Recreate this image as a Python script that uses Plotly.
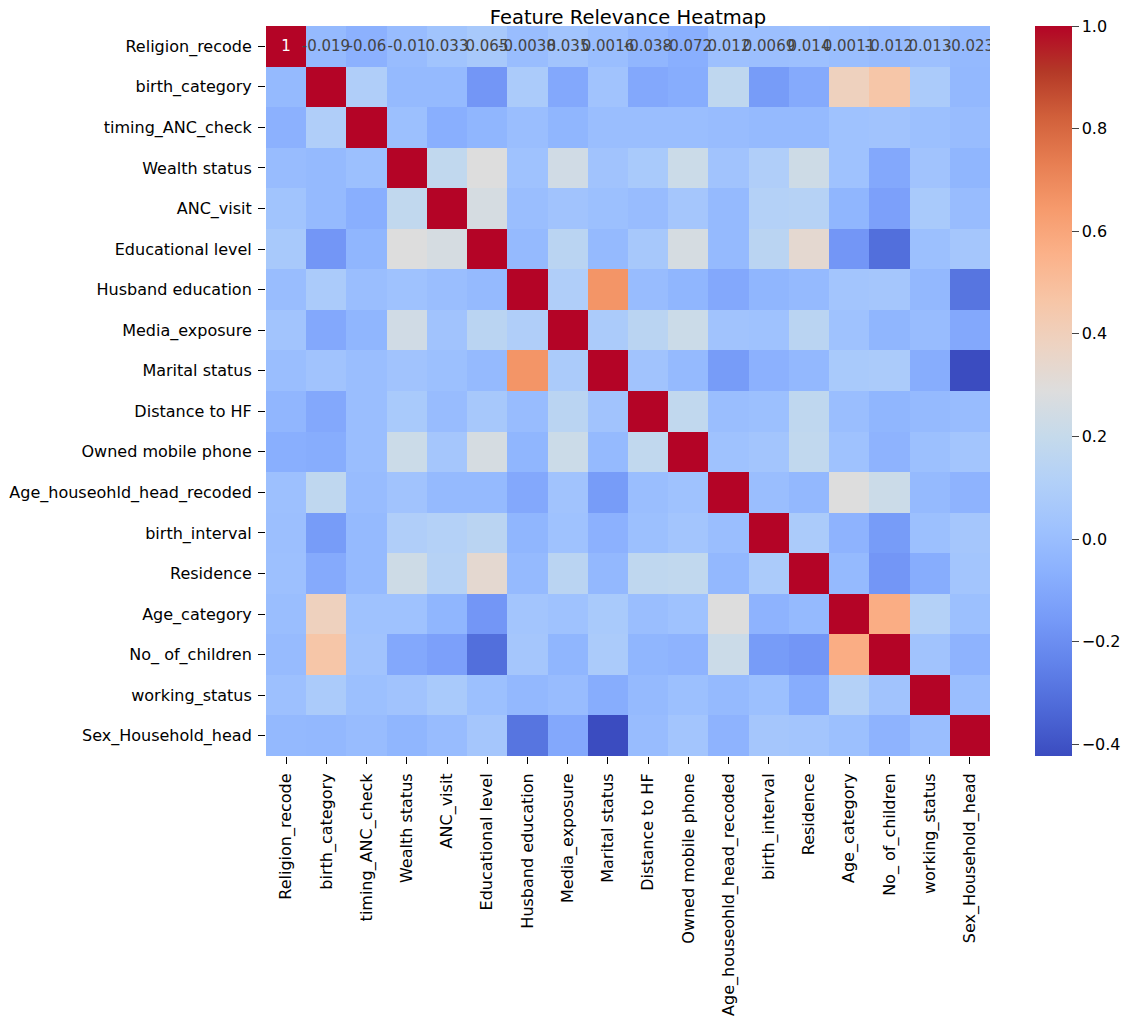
import plotly.graph_objects as go

features = [
    "Religion_recode", "birth_category", "timing_ANC_check", "Wealth status",
    "ANC_visit", "Educational level", "Husband education", "Media_exposure",
    "Marital status", "Distance to HF", "Owned mobile phone",
    "Age_houseohld_head_recoded", "birth_interval", "Residence",
    "Age_category", "No_ of_children", "working_status", "Sex_Household_head",
]

# correlation matrix (row 0 from the printed values)
religion_recode = [1, -0.019, -0.06, -0.01, 0.033, 0.065, -0.0038, 0.035, 0.0016, -0.038, -0.072, 0.012, 0.0069, 0.014, 0.0011, -0.012, 0.013, -0.023]
birth_category = [-0.019, 1, 0.1, -0.02, -0.02, -0.17, 0.08, -0.1, 0.03, -0.1, -0.08, 0.17, -0.15, -0.09, 0.39, 0.46, 0.08, -0.03]
timing_anc_check = [-0.06, 0.1, 1, 0.01, -0.07, -0.04, 0.0, -0.04, 0.0, 0.0, 0.0, -0.01, -0.02, -0.02, 0.02, 0.03, 0.01, -0.01]
wealth_status = [-0.01, -0.02, 0.01, 1, 0.18, 0.29, 0.02, 0.24, 0.03, 0.07, 0.22, 0.03, 0.1, 0.23, 0.02, -0.1, 0.03, -0.04]
anc_visit = [0.033, -0.02, -0.07, 0.18, 1, 0.26, 0.0, 0.03, 0.01, -0.01, 0.05, -0.02, 0.12, 0.13, -0.04, -0.13, 0.07, -0.01]
educational_level = [0.065, -0.17, -0.04, 0.29, 0.26, 1, -0.02, 0.15, -0.02, 0.06, 0.26, -0.02, 0.15, 0.33, -0.17, -0.31, 0.01, 0.05]
husband_education = [-0.0038, 0.08, 0.0, 0.02, 0.0, -0.02, 1, 0.1, 0.66, -0.01, -0.04, -0.1, -0.04, -0.02, 0.04, 0.05, -0.03, -0.29]
media_exposure = [0.035, -0.1, -0.04, 0.24, 0.03, 0.15, 0.1, 1, 0.08, 0.15, 0.22, 0.03, 0.02, 0.15, 0.02, -0.04, -0.01, -0.1]
marital_status = [0.0016, 0.03, 0.0, 0.03, 0.01, -0.02, 0.66, 0.08, 1, 0.03, -0.02, -0.15, -0.06, -0.03, 0.07, 0.08, -0.08, -0.423]
distance_to_hf = [-0.038, -0.1, 0.0, 0.07, -0.01, 0.06, -0.01, 0.15, 0.03, 1, 0.18, 0.0, 0.01, 0.17, 0.0, -0.04, -0.02, -0.01]
owned_mobile_phone = [-0.072, -0.08, 0.0, 0.22, 0.05, 0.26, -0.04, 0.22, -0.02, 0.18, 1, 0.02, 0.04, 0.18, 0.02, -0.05, 0.01, 0.04]
age_household_head = [0.012, 0.17, -0.01, 0.03, -0.02, -0.02, -0.1, 0.03, -0.15, 0.0, 0.02, 1, 0.0, -0.03, 0.29, 0.22, -0.02, -0.05]
birth_interval = [0.0069, -0.15, -0.02, 0.1, 0.12, 0.15, -0.04, 0.02, -0.06, 0.01, 0.04, 0.0, 1, 0.08, -0.05, -0.15, 0.01, 0.05]
residence = [0.014, -0.09, -0.02, 0.23, 0.13, 0.33, -0.02, 0.15, -0.03, 0.17, 0.18, -0.03, 0.08, 1, -0.02, -0.17, -0.08, 0.04]
age_category = [0.0011, 0.39, 0.02, 0.02, -0.04, -0.17, 0.04, 0.02, 0.07, 0.0, 0.02, 0.29, -0.05, -0.02, 1, 0.57, 0.12, 0.01]
no_of_children = [-0.012, 0.46, 0.03, -0.1, -0.13, -0.31, 0.05, -0.04, 0.08, -0.04, -0.05, 0.22, -0.15, -0.17, 0.57, 1, 0.03, -0.05]
working_status = [0.013, 0.08, 0.01, 0.03, 0.07, 0.01, -0.03, -0.01, -0.08, -0.02, 0.01, -0.02, 0.01, -0.08, 0.12, 0.03, 1, 0.0]
sex_household_head = [-0.023, -0.03, -0.01, -0.04, -0.01, 0.05, -0.29, -0.1, -0.423, -0.01, 0.04, -0.05, 0.05, 0.04, 0.01, -0.05, 0.0, 1]

corr = [
    religion_recode, birth_category, timing_anc_check, wealth_status, anc_visit,
    educational_level, husband_education, media_exposure, marital_status,
    distance_to_hf, owned_mobile_phone, age_household_head, birth_interval,
    residence, age_category, no_of_children, working_status, sex_household_head,
]

# matplotlib "coolwarm"
coolwarm = [
    (0.0, (59, 76, 192)), (0.0625, (77, 104, 215)), (0.125, (97, 130, 234)),
    (0.1875, (118, 154, 248)), (0.25, (138, 176, 254)), (0.3125, (159, 194, 254)),
    (0.375, (178, 208, 248)), (0.4375, (197, 218, 235)), (0.5, (221, 221, 221)),
    (0.5625, (237, 211, 194)), (0.625, (247, 197, 166)), (0.6875, (251, 177, 137)),
    (0.75, (246, 154, 108)), (0.8125, (231, 126, 82)), (0.875, (209, 96, 59)),
    (0.9375, (180, 57, 39)), (1.0, (180, 4, 38)),
]
colorscale = [[p, "rgb(%d,%d,%d)" % c] for p, c in coolwarm]

# seaborn only printed the first row (annot bug); mimic that
text = [["" for _ in features] for _ in features]
text[0] = [format(v, ".2g") for v in religion_recode]

flat = [v for row in corr for v in row]

fig = go.Figure(
    go.Heatmap(
        z=corr,
        x=features,
        y=features,
        colorscale=colorscale,
        zmin=min(flat),
        zmax=max(flat),
        text=text,
        texttemplate="%{text}",
        textfont={"size": 15},
        xgap=0,
        ygap=0,
        colorbar={
            "thickness": 37,
            "len": 1,
            "lenmode": "fraction",
            "x": 1.0628,
            "xanchor": "left",
            "xpad": 0,
            "ypad": 0,
            "y": 0.5,
            "yanchor": "middle",
            "outlinewidth": 0,
            "tickvals": [-0.4, -0.2, 0.0, 0.2, 0.4, 0.6, 0.8, 1.0],
            "tickformat": ".1f",
            "ticks": "outside",
            "ticklen": 7,
            "tickfont": {"size": 16},
        },
    )
)

# the page body adds 8px around the figure, so the figure is 16px smaller
fig.update_layout(
    width=1126,
    height=1015,
    margin={"l": 258, "r": 136, "t": 18, "b": 267},
    paper_bgcolor="white",
    plot_bgcolor="white",
    font={"family": "DejaVu Sans", "size": 16, "color": "black"},
    title={
        "text": "Feature Relevance Heatmap",
        "x": 0.5,
        "xref": "paper",
        "xanchor": "center",
        "y": 1 - 2 / 1015,
        "yanchor": "top",
        "pad": {"t": 0, "b": 0},
        "font": {"size": 19.5},
    },
)
fig.update_xaxes(
    tickangle=-90,
    ticks="outside",
    ticklen=7,
    tickcolor="black",
    ticklabelstandoff=3,
    showgrid=False,
    zeroline=False,
    automargin=False,
)
fig.update_yaxes(
    autorange="reversed",
    ticks="outside",
    ticklen=7,
    tickcolor="black",
    ticklabelstandoff=3,
    showgrid=False,
    zeroline=False,
    automargin=False,
)

fig.write_html("out.html")
